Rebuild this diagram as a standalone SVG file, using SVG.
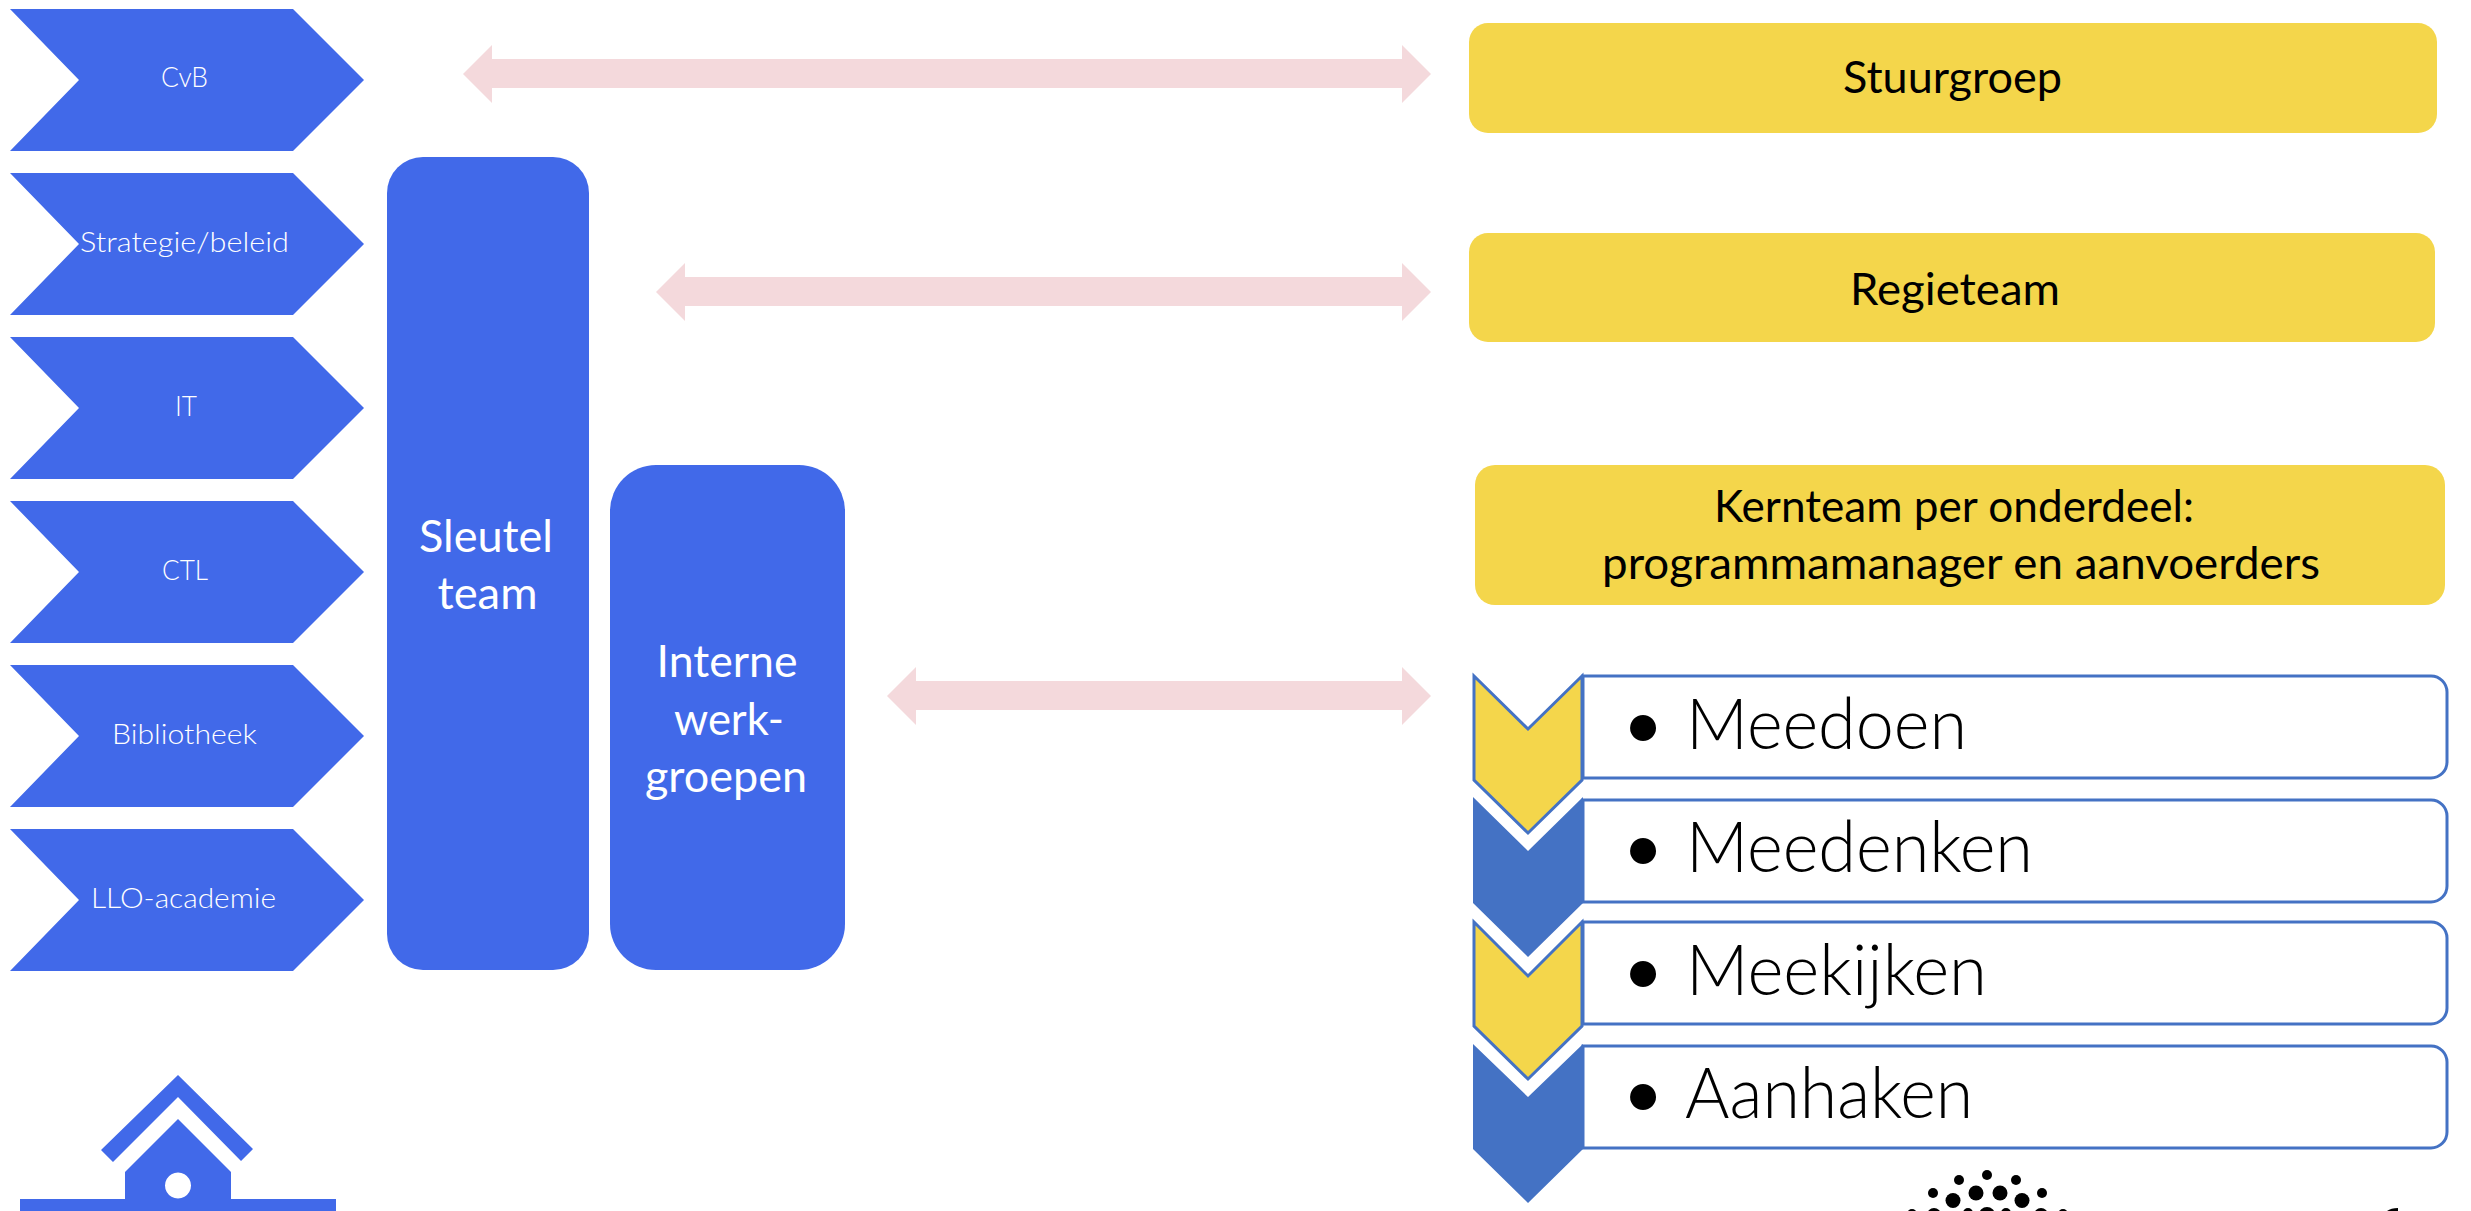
<svg xmlns="http://www.w3.org/2000/svg" width="2471" height="1211" viewBox="0 0 2471 1211">
<style>
text{font-family:"Lato","Carlito","Liberation Sans",sans-serif;text-anchor:middle}
.b{fill:#4169E9}
.y{fill:#F4D64B}
.p{fill:#F4D9DC}
.bl{fill:#4472C4}
.c{fill:#fff;font-size:28px;font-weight:300}
.k{fill:#fff;font-size:45px;font-weight:400}
.t{fill:#000;font-size:44px;font-weight:400}
.m{fill:#000;font-size:70px;font-weight:300;text-anchor:start}
.d{fill:#000;font-size:70px;font-weight:400}
.o{fill:#fff;stroke:#4472C4;stroke-width:3}
.yc{fill:#F4D64B;stroke:#4472C4;stroke-width:3}
</style>
<rect width="2471" height="1211" fill="#fff"/>
<defs>
<path id="chev" d="M10 0H293L364 71L293 142H10L79 71Z"/>
</defs>
<g id="connectors">
<path class="p" d="M463 74L492 45V59H1402V45L1431 74L1402 103V88H492V103Z"/>
<path class="p" d="M656 292L685 263V277H1402V263L1431 292L1402 321V306H685V321Z"/>
<path class="p" d="M887 696L916 667V681H1402V667L1431 696L1402 725V710H916V725Z"/>
</g>
<g id="node-cvb"><use href="#chev" y="9" class="b"/><text class="c" x="184.500" y="87" textLength="47" lengthAdjust="spacingAndGlyphs">CvB</text></g>
<g id="node-strategie"><use href="#chev" y="173" class="b"/><text class="c" x="184.500" y="252" textLength="209" lengthAdjust="spacingAndGlyphs">Strategie/beleid</text></g>
<g id="node-it"><use href="#chev" y="337" class="b"/><text class="c" x="186" y="416" textLength="22" lengthAdjust="spacingAndGlyphs">IT</text></g>
<g id="node-ctl"><use href="#chev" y="501" class="b"/><text class="c" x="185" y="580" textLength="46" lengthAdjust="spacingAndGlyphs">CTL</text></g>
<g id="node-bibliotheek"><use href="#chev" y="665" class="b"/><text class="c" x="184.500" y="744" textLength="145" lengthAdjust="spacingAndGlyphs">Bibliotheek</text></g>
<g id="node-llo"><use href="#chev" y="829" class="b"/><text class="c" x="183.500" y="908" textLength="185" lengthAdjust="spacingAndGlyphs">LLO-academie</text></g>
<g id="node-sleutelteam"><rect class="b" x="387" y="157" width="202" height="813" rx="36"/>
<text class="k" x="486" y="552" textLength="134" lengthAdjust="spacingAndGlyphs">Sleutel</text>
<text class="k" x="487.500" y="609" textLength="100" lengthAdjust="spacingAndGlyphs">team</text></g>
<g id="node-werkgroepen"><rect class="b" x="610" y="465" width="235" height="505" rx="46"/>
<text class="k" x="727" y="677" textLength="141" lengthAdjust="spacingAndGlyphs">Interne</text>
<text class="k" x="729" y="735" textLength="110" lengthAdjust="spacingAndGlyphs">werk-</text>
<text class="k" x="726" y="792" textLength="162" lengthAdjust="spacingAndGlyphs">groepen</text></g>
<g id="node-stuurgroep"><rect class="y" x="1469" y="23" width="968" height="110" rx="19"/>
<text class="t" x="1952.500" y="93" textLength="219" lengthAdjust="spacingAndGlyphs">Stuurgroep</text></g>
<g id="node-regieteam"><rect class="y" x="1469" y="233" width="966" height="109" rx="19"/>
<text class="t" x="1955" y="305" textLength="210" lengthAdjust="spacingAndGlyphs">Regieteam</text></g>
<g id="node-kernteam"><rect class="y" x="1475" y="465" width="970" height="140" rx="20"/>
<text class="t" x="1954" y="522" textLength="480" lengthAdjust="spacingAndGlyphs">Kernteam per onderdeel:</text>
<text class="t" x="1961" y="579" textLength="718" lengthAdjust="spacingAndGlyphs">programmamanager en aanvoerders</text></g>
<g id="node-meedoen">
<path class="o" d="M1583 676H2431a16 16 0 0 1 16 16V762a16 16 0 0 1 -16 16H1583Z"/>
<path class="yc" d="M1474 676L1528 729L1582 676V780L1528 833L1474 780Z"/>
<text class="d" x="1643" y="749">•</text>
<text class="m" x="1686" y="749" textLength="281" lengthAdjust="spacingAndGlyphs">Meedoen</text></g>
<g id="node-meedenken">
<path class="o" d="M1583 800H2431a16 16 0 0 1 16 16V886a16 16 0 0 1 -16 16H1583Z"/>
<path class="bl" d="M1473 797L1528 851L1583 797V903L1528 957L1473 903Z"/>
<text class="d" x="1643" y="872">•</text>
<text class="m" x="1686" y="872" textLength="347" lengthAdjust="spacingAndGlyphs">Meedenken</text></g>
<g id="node-meekijken">
<path class="o" d="M1583 922H2431a16 16 0 0 1 16 16V1008a16 16 0 0 1 -16 16H1583Z"/>
<path class="yc" d="M1474 922L1528 976L1582 922V1026L1528 1079L1474 1026Z"/>
<text class="d" x="1643" y="995">•</text>
<text class="m" x="1686" y="995" textLength="301" lengthAdjust="spacingAndGlyphs">Meekijken</text></g>
<g id="node-aanhaken">
<path class="o" d="M1583 1046H2431a16 16 0 0 1 16 16V1132a16 16 0 0 1 -16 16H1583Z"/>
<path class="bl" d="M1473 1044L1528 1097L1583 1044V1149L1528 1203L1473 1149Z"/>
<text class="d" x="1643" y="1118">•</text>
<text class="m" x="1685" y="1118" textLength="288" lengthAdjust="spacingAndGlyphs">Aanhaken</text></g>
<g id="house">
<path class="b" d="M178 1075L253 1149L241 1161L178 1097L113 1162L101 1150Z"/>
<path class="b" fill-rule="evenodd" d="M178 1119L231 1172V1199H336V1211H20V1199H125V1172ZM178 1172.500a13 13 0 1 0 .01 0Z"/>
</g>
<g id="logo-dots" fill="#000">
<circle cx="1987" cy="1175" r="5"/><circle cx="1959" cy="1180" r="5"/><circle cx="2016" cy="1180" r="5"/>
<circle cx="1933" cy="1193" r="5"/><circle cx="2042" cy="1193" r="5"/>
<circle cx="1953" cy="1200.500" r="7.500"/><circle cx="1976" cy="1193" r="7.500"/><circle cx="2000" cy="1193" r="7.500"/><circle cx="2022" cy="1200.500" r="7.500"/>
<circle cx="1912" cy="1214" r="5"/><circle cx="1934" cy="1215" r="7"/><circle cx="1968" cy="1213" r="5"/><circle cx="1987" cy="1215" r="8"/><circle cx="2006" cy="1213" r="5"/><circle cx="2041" cy="1215" r="7"/><circle cx="2063" cy="1214" r="5"/>
<path d="M2387 1211Q2391 1208 2398 1208L2398 1211Z"/>
</g>
</svg>
